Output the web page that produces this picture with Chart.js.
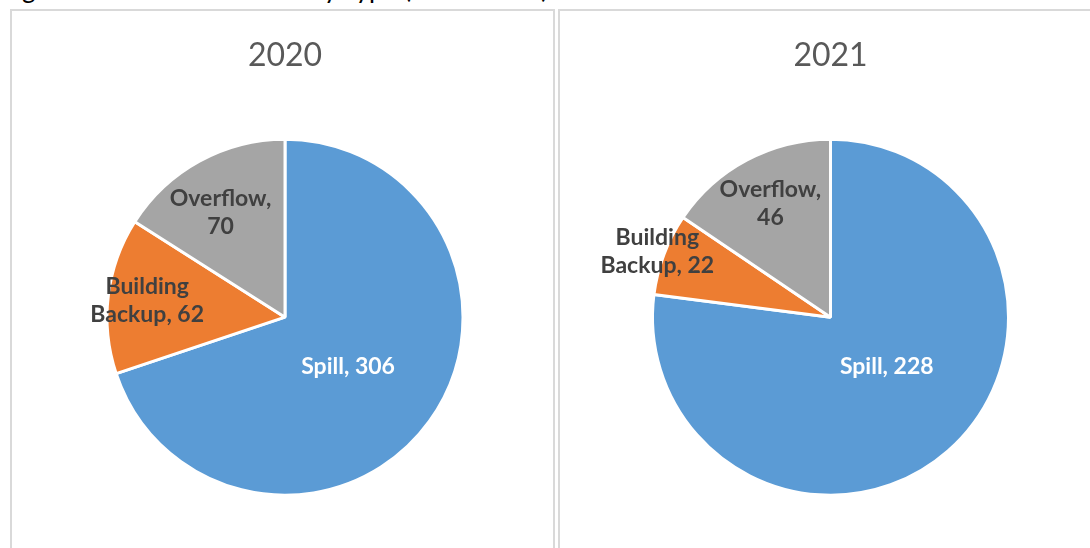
<!DOCTYPE html>
<html lang="en">
<head>
<meta charset="utf-8">
<title>Overflows by Type (2020-2021)</title>
<script src="https://cdn.jsdelivr.net/npm/chart.js@4.4.1/dist/chart.umd.min.js"></script>
<style>
    html, body { margin: 0; padding: 0; background: #fff; }
    body { position: relative; width: 1090px; height: 548px; overflow: hidden; }
    .caption { position: absolute; left: 1px; top: -25px; font: 26px Lato, sans-serif; line-height: 26px; color: #000; white-space: nowrap; }
    .panel { position: absolute; top: 9px; width: 545px; height: 560px; box-sizing: border-box; border: 2px solid #d9d9d9; background: #fff; }
    #panel2020 { left: 10px; }
    #panel2021 { left: 558px; }
    .panel canvas { position: absolute; left: 0; top: 0; }
</style>
</head>
<body>
<div class="caption">Figure 4: Sewer Overflows by Type (2020-2021)</div>
<div class="panel" id="panel2020"><canvas id="pie2020" width="541" height="549"></canvas></div>
<div class="panel" id="panel2021"><canvas id="pie2021" width="541" height="549"></canvas></div>
<script>
/**
 * Two pie charts, overflow events by type for 2020 and 2021.
 */

const categories = ["Spill", "Building Backup", "Overflow"]
const years = ["2020", "2021"]
const counts2020 = [306, 62, 70]
const counts2021 = [228, 22, 46]

const sliceColors = ["#5b9bd5", "#ed7d31", "#a5a5a5"]
const labelColors = ["#ffffff", "#404040", "#404040"]

// splits a label into lines no wider than maxWidth
function wrapText (ctx, text, maxWidth) {
    const words = text.split(" ")
    const lines = []
    let line = ""
    words.forEach((word) => {
        const test = line ? line + " " + word : word
        if (line && ctx.measureText(test).width > maxWidth) {
            lines.push(line)
            line = word
        } else {
            line = test
        }
    })
    lines.push(line)
    return lines
}

// draws "Category, value" inside each slice, along its middle angle
const sliceLabels = {
    id: "sliceLabels",
    afterDatasetsDraw (chart, args, opts) {
        const { ctx } = chart
        const meta = chart.getDatasetMeta(0)
        const values = chart.data.datasets[0].data
        ctx.save()
        ctx.font = opts.font
        ctx.textAlign = "center"
        ctx.textBaseline = "middle"
        meta.data.forEach((arc, i) => {
            const { x, y, startAngle, endAngle, outerRadius } = arc.getProps(["x", "y", "startAngle", "endAngle", "outerRadius"], true)
            const mid = (startAngle + endAngle) / 2 + opts.turns[i]
            const dist = outerRadius * opts.offsets[i]
            const cx = x + Math.cos(mid) * dist
            const cy = y + Math.sin(mid) * dist
            const lines = wrapText(ctx, chart.data.labels[i] + ", " + values[i], opts.maxWidth)
            ctx.fillStyle = opts.colors[i]
            lines.forEach((line, n) => {
                ctx.fillText(line, cx, cy + (n - (lines.length - 1) / 2) * opts.lineHeight)
            })
        })
        ctx.restore()
    }
}

function makePie (canvasId, year, counts, padLeft, offsets, turns) {
    return new Chart(document.getElementById(canvasId), {
        type: "pie",
        data: {
            labels: categories,
            datasets: [{
                data: counts,
                backgroundColor: sliceColors,
                borderColor: "#ffffff",
                borderWidth: 3,
                hoverOffset: 0
            }]
        },
        options: {
            responsive: false,
            animation: false,
            radius: 178,
            layout: { padding: { left: padLeft, right: 0, top: 0, bottom: 0 } },
            plugins: {
                legend: { display: false },
                tooltip: { enabled: false },
                title: {
                    display: true,
                    text: year,
                    color: "#595959",
                    font: { family: "Lato", size: 32, weight: "normal" },
                    padding: { top: 25, bottom: 0 }
                },
                sliceLabels: {
                    font: "bold 23px Lato",
                    lineHeight: 28,
                    maxWidth: 122,
                    colors: labelColors,
                    offsets: offsets,
                    turns: turns
                }
            }
        },
        plugins: [sliceLabels]
    })
}

makePie("pie2020", years[0], counts2020, 5, [0.45, 0.78, 0.69], [0.04, 0, -0.05])
makePie("pie2021", years[1], counts2021, 0, [0.42, 1.04, 0.72], [-0.13, 0, 0])
</script>
</body>
</html>
